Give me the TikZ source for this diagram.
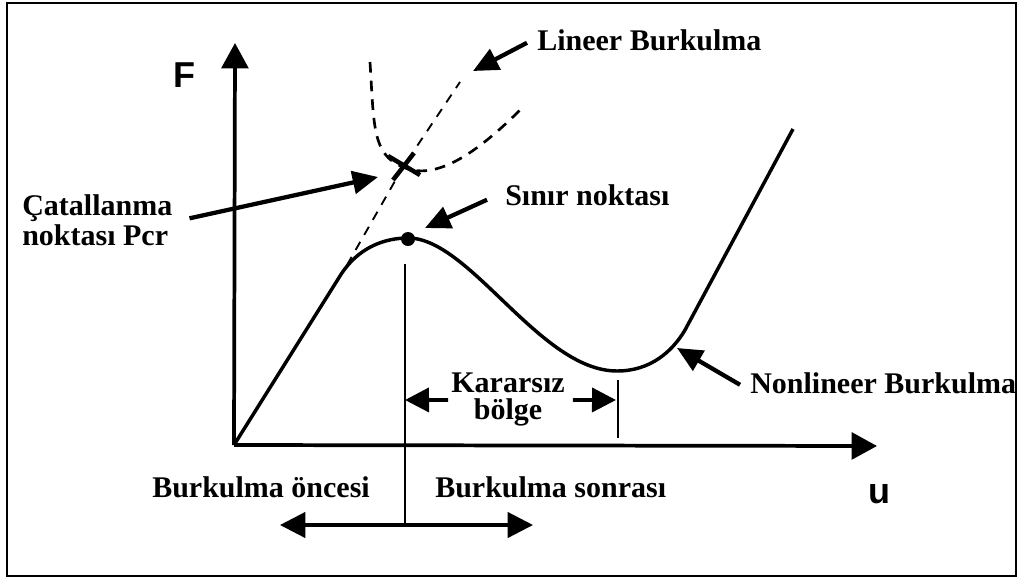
\documentclass[tikz,border=0pt]{standalone}
\usepackage{fontspec}
\setmainfont{Liberation Serif}
\setsansfont{Liberation Sans}
\usetikzlibrary{arrows.meta}
\begin{document}
\begin{tikzpicture}[x=0.75pt,y=-0.75pt,
  lbl/.style={font=\fontsize{22.5}{22.5}\selectfont\bfseries, inner sep=0pt, text=black},
  axlbl/.style={font=\fontsize{27}{30}\selectfont\sffamily\bfseries, inner sep=0pt},
  axisline/.style={line width=2.8pt, -{Triangle[length=19pt,width=20pt]}},
  pointer/.style={line width=3.2pt, -{Triangle[length=19pt,width=17pt]}},
  dimarrow/.style={line width=2.8pt, -{Triangle[length=18pt,width=18pt]}},
  curveline/.style={line width=2.6pt, line join=round},
  thinline/.style={line width=2pt},
  dashA/.style={line width=1.4pt, dash pattern=on 7pt off 6pt},
  dashB/.style={line width=2pt, dash pattern=on 8pt off 6pt},
]
\useasboundingbox (0,0) rectangle (1020,579);
\draw[line width=1.5pt] (7,3) rectangle (1016,576);

% axes
\coordinate (O) at (234,445);
\coordinate (Ytop) at (235,43);
\coordinate (Xend) at (877,446);
\draw[axisline] (O) -- (Ytop);
\draw[axisline] (O) -- (Xend);
\node[axlbl, anchor=base west] (F) at (173,87) {F};
\node[axlbl, anchor=base west] (u) at (868,503) {u};

% linear buckling (dashed)
\coordinate (bif) at (403,167);
\draw[dashA] (347,265) -- (bif) -- (460,82);
% bifurcation branch (dashed)
\draw[dashB] (370,62) .. controls (374,125) and (372,155) .. (bif)
  .. controls (432,180) and (470,160) .. (520,110);
% cross at bifurcation point
\draw[line width=3.4pt] (388,156) -- (420,175);
\draw[line width=3.4pt] (414,153) -- (393,180);

% nonlinear curve
\draw[curveline] (O) -- (340,276) .. controls (358,247) and (385,238) .. (408,238)
  .. controls (470,238) and (540,371) .. (617,371)
  .. controls (650,371) and (672,352) .. (685,330) -- (793,129);
\node[circle, fill, inner sep=0pt, minimum size=10.5pt] (peak) at (408,239) {};

% vertical divider and bottom arrow
\coordinate (vtop) at (405,264);
\coordinate (vbot) at (405,525);
\draw[thinline] (vtop) -- (vbot);
\coordinate (bl) at (280,525);
\coordinate (br) at (533,525);
\draw[line width=2.4pt, {Triangle[length=19pt,width=19pt]}-{Triangle[length=19pt,width=19pt]}] (bl) -- (br);

% unstable region tick
\coordinate (ttop) at (618,380);
\coordinate (tbot) at (618,438);
\draw[thinline] (ttop) -- (tbot);

% labels
\node[lbl, anchor=base west] (lin) at (537,50) {Lineer Burkulma};
\node[lbl, anchor=base west] (sinir) at (505,205) {Sınır noktası};
\node[lbl, anchor=north west, align=left] (cat) at (22,194.5) {Çatallanma\\noktası Pcr};
\node[lbl, anchor=base west] (nonlin) at (750,393) {Nonlineer Burkulma};
\node[lbl, anchor=north, align=center, font=\fontsize{22.5}{20.25}\selectfont\bfseries] (kar) at (508,373) {Kararsız\\bölge};
\node[lbl, anchor=base west] (once) at (152,497) {Burkulma öncesi};
\node[lbl, anchor=base west] (sonra) at (435,497) {Burkulma sonrası};

% pointer arrows
\coordinate (lintip) at (473,71);
\coordinate (sinirtip) at (425,228);
\coordinate (cattip) at (378,177);
\coordinate (nonlintip) at (677,348);
\coordinate (karL) at (405,400);
\coordinate (karR) at (616,400);
\draw[pointer] ([shift={(-10,3)}]lin.west) -- (lintip);
\draw[pointer] ([shift={(-18,5)}]sinir.west) -- (sinirtip);
\draw[pointer] ([shift={(17,-2)}]cat.east) -- (cattip);
\draw[pointer] ([shift={(-10,2)}]nonlin.west) -- (nonlintip);
\draw[dimarrow] ([shift={(-3,0)}]kar.west) -- (karL);
\draw[dimarrow] ([shift={(8,0)}]kar.east) -- (karR);
\end{tikzpicture}
\end{document}
